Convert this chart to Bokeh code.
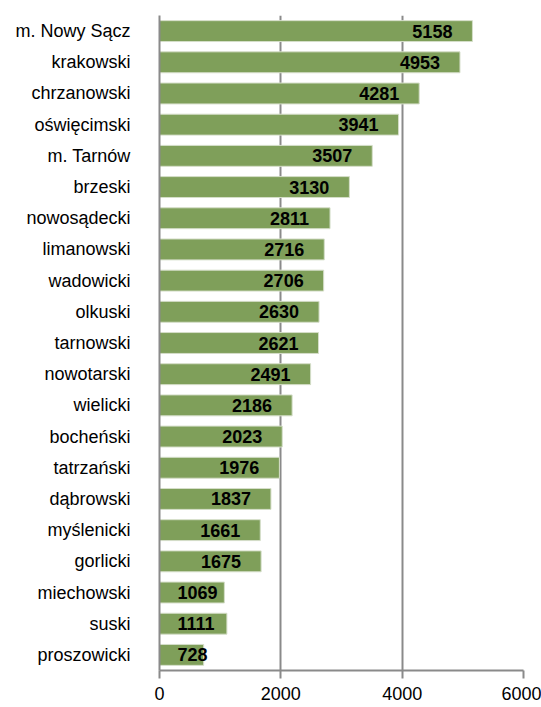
import numpy as np
from bokeh.plotting import figure
from bokeh.models import ColumnDataSource, FactorRange, FixedTicker
from bokeh.core.properties import value
from bokeh.embed import file_html
from bokeh.resources import INLINE

districts = ["m. Nowy Sącz", "krakowski", "chrzanowski", "oświęcimski", "m. Tarnów",
             "brzeski", "nowosądecki", "limanowski", "wadowicki", "olkuski", "tarnowski",
             "nowotarski", "wielicki", "bocheński", "tatrzański", "dąbrowski",
             "myślenicki", "gorlicki", "miechowski", "suski", "proszowicki"]
counts = [5158, 4953, 4281, 3941, 3507, 3130, 2811, 2716, 2706, 2630, 2621,
          2491, 2186, 2023, 1976, 1837, 1661, 1675, 1069, 1111, 728]
x_ticks = [0, 2000, 4000, 6000]

FONT = "Liberation Sans"
GRAY = "#8a8a8a"

vals = np.array(counts, dtype=float)
digits = np.array([len(str(c)) for c in counts])
# label: right end ~330 units inside bar end, but never starting left of ~297 units
label_x = np.maximum(vals - 330 - digits * 165, 297)

src = ColumnDataSource(dict(d=districts, v=counts, lx=label_x,
                            t=[str(c) for c in counts]))

p = figure(width=541, height=707, output_backend="svg", toolbar_location=None,
           y_range=FactorRange(factors=list(reversed(districts)), range_padding=0),
           x_range=(0, 6000),
           min_border_left=159, min_border_right=18, min_border_top=15, min_border_bottom=37)
p.outline_line_color = None
p.background_fill_color = "white"

p.hbar(y="d", right="v", left=0, height=0.67, source=src,
       fill_color="#7F9F5A", line_color="#d5dec9", line_width=1)

p.text(x="lx", y="d", text="t", source=src, text_align="left", text_baseline="middle",
       text_font=value(FONT), text_font_size="18px", text_font_style="bold",
       text_color="black")

p.xaxis.ticker = FixedTicker(ticks=x_ticks)
p.xaxis.axis_line_color = GRAY
p.xaxis.axis_line_width = 2
p.xaxis.major_tick_line_color = GRAY
p.xaxis.major_tick_line_width = 2
p.xaxis.major_tick_out = 8
p.xaxis.major_tick_in = 0
p.xaxis.minor_tick_line_color = None
p.xaxis.major_label_text_font = FONT
p.xaxis.major_label_text_font_size = "18px"
p.xaxis.major_label_text_color = "black"
p.xaxis.major_label_standoff = 8

p.yaxis.axis_line_color = GRAY
p.yaxis.axis_line_width = 2
p.yaxis.major_tick_line_color = None
p.yaxis.major_tick_out = 0
p.yaxis.major_tick_in = 0
p.yaxis.minor_tick_line_color = None
p.yaxis.major_label_text_font = FONT
p.yaxis.major_label_text_font_size = "18px"
p.yaxis.major_label_text_color = "black"
p.yaxis.major_label_standoff = 29

p.xgrid.grid_line_color = GRAY
p.xgrid.grid_line_width = 2
p.ygrid.grid_line_color = None

open("out.html", "w").write(file_html(p, INLINE))
